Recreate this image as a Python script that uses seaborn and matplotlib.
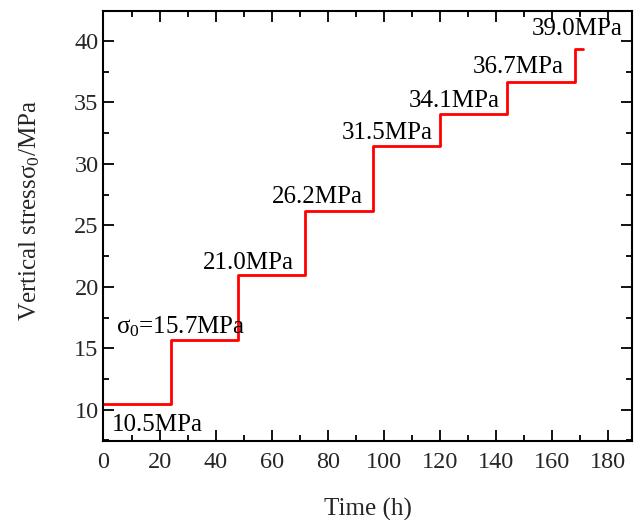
import matplotlib
matplotlib.use("Agg")
import matplotlib.pyplot as plt
import seaborn as sns
import pandas as pd
from matplotlib.ticker import MultipleLocator

# Data
time_h = [0, 24, 48, 72, 96, 120, 144, 168, 171]
stress = [10.5, 15.7, 21.0, 26.2, 31.5, 34.1, 36.7, 39.35, 39.35]
labels = ["10.5MPa", r"$\sigma_0$=15.7MPa", "21.0MPa", "26.2MPa", "31.5MPa",
          "34.1MPa", "36.7MPa", "39.0MPa"]
label_x = [2.9, 4.4, 35.5, 60.0, 84.9, 108.7, 131.5, 152.7]
label_y = [8.29, 16.22, 21.42, 26.79, 32.0, 34.65, 37.37, 40.49]

sns.set_style("ticks")
plt.rcParams["font.family"] = ["Liberation Serif", "DejaVu Serif"]
plt.rcParams["mathtext.fontset"] = "custom"
plt.rcParams["mathtext.rm"] = "Liberation Serif"
plt.rcParams["mathtext.it"] = "Liberation Serif"
plt.rcParams["mathtext.bf"] = "Liberation Serif:bold"

df = pd.DataFrame({"Time": time_h, "Stress": stress})

fig = plt.figure(figsize=(6.42, 5.2), dpi=100)
ax = fig.add_axes([0.1612, 0.1519, 0.9844 - 0.1612, 0.9794 - 0.1519])

sns.lineplot(data=df, x="Time", y="Stress", drawstyle="steps-post", color="#ff0000",
             linewidth=2.0, sort=False, ax=ax)

for t, xx, yy in zip(labels, label_x, label_y):
    ax.text(xx, yy, t, ha="left", va="baseline", fontsize=18, color="black")

ax.set_xlim(0, 188.4)
ax.set_ylim(7.45, 42.47)
ax.xaxis.set_major_locator(MultipleLocator(20))
ax.xaxis.set_minor_locator(MultipleLocator(10))
ax.yaxis.set_major_locator(MultipleLocator(5))
ax.yaxis.set_minor_locator(MultipleLocator(2.5))
ax.tick_params(which="both", direction="in", top=True, right=True, width=1.3,
               labelsize=17.5, color="black")
ax.tick_params(which="major", length=8)
ax.tick_params(which="minor", length=4.5)
ax.tick_params(axis="x", which="major", pad=8)
for s in ax.spines.values():
    s.set_visible(True)
    s.set_linewidth(1.5)
    s.set_color("black")

ax.set_xlabel("Time (h)", fontsize=18, labelpad=18)
ax.set_ylabel(r"Vertical stress$\sigma_0$/MPa", fontsize=18, labelpad=23)
ax.yaxis.label.set_y(0.535)

fig.savefig("out.png", dpi=100)
